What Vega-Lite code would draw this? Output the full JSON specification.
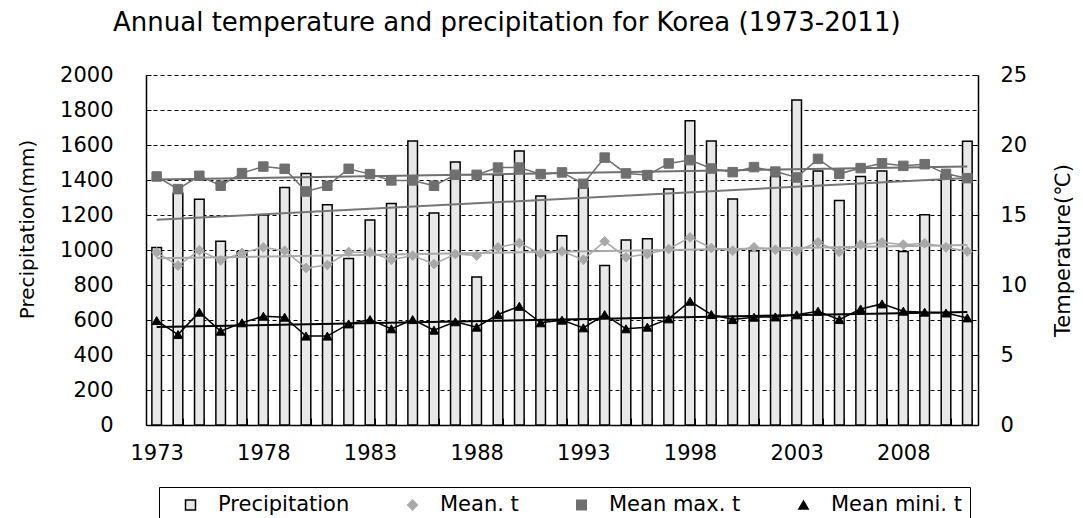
{
  "$schema": "https://vega.github.io/schema/vega-lite/v6.json",
  "width": 832,
  "height": 350,
  "autosize": {"type": "none"},
  "padding": {"left": 146, "top": 75, "right": 105, "bottom": 93},
  "background": "white",
  "config": {
    "view": {"stroke": null},
    "font": "DejaVu Sans",
    "axis": {"labelFont": "DejaVu Sans", "labelColor": "black", "titleColor": "black", "titleFontWeight": "normal", "titleFont": "DejaVu Sans", "domainColor": "black", "tickColor": "black"},
    "legend": {
      "orient": "none",
      "legendX": 13,
      "legendY": 412,
      "direction": "horizontal",
      "columns": 4,
      "padding": 8,
      "strokeColor": "black",
      "fillColor": "white",
      "symbolOffset": 13,
      "labelOffset": 17,
      "columnPadding": 39,
      "clipHeight": 20,
      "symbolSize": 2116,
      "symbolStrokeWidth": 1.5,
      "labelFont": "DejaVu Sans",
      "labelFontSize": 21,
      "labelColor": "black",
      "labelLimit": 400
    }
  },
  "title": {
    "text": "Annual temperature and precipitation for Korea (1973-2011)",
    "anchor": "start",
    "frame": "group",
    "dx": -33,
    "offset": 28,
    "font": "DejaVu Sans",
    "fontSize": 26,
    "fontWeight": "normal",
    "color": "black"
  },
  "data": {
    "values": [
      {"year": 1973, "precip": 1015, "tmean": 12.33, "tmax": 17.75, "tmin": 7.46},
      {"year": 1974, "precip": 1325, "tmean": 11.38, "tmax": 16.85, "tmin": 6.46},
      {"year": 1975, "precip": 1290, "tmean": 12.48, "tmax": 17.8, "tmin": 8.06},
      {"year": 1976, "precip": 1050, "tmean": 11.76, "tmax": 17.09, "tmin": 6.7},
      {"year": 1977, "precip": 990, "tmean": 12.29, "tmax": 17.99, "tmin": 7.3},
      {"year": 1978, "precip": 1200, "tmean": 12.69, "tmax": 18.46, "tmin": 7.77},
      {"year": 1979, "precip": 1357, "tmean": 12.45, "tmax": 18.3, "tmin": 7.7},
      {"year": 1980, "precip": 1437, "tmean": 11.22, "tmax": 16.68, "tmin": 6.35},
      {"year": 1981, "precip": 1258, "tmean": 11.43, "tmax": 17.09, "tmin": 6.35},
      {"year": 1982, "precip": 951, "tmean": 12.36, "tmax": 18.3, "tmin": 7.22},
      {"year": 1983, "precip": 1171, "tmean": 12.33, "tmax": 17.92, "tmin": 7.53},
      {"year": 1984, "precip": 1266, "tmean": 11.81, "tmax": 17.47, "tmin": 6.87},
      {"year": 1985, "precip": 1623, "tmean": 12.1, "tmax": 17.47, "tmin": 7.53},
      {"year": 1986, "precip": 1211, "tmean": 11.5, "tmax": 17.09, "tmin": 6.77},
      {"year": 1987, "precip": 1503, "tmean": 12.21, "tmax": 17.87, "tmin": 7.37},
      {"year": 1988, "precip": 846, "tmean": 12.1, "tmax": 17.87, "tmin": 6.99},
      {"year": 1989, "precip": 1430, "tmean": 12.69, "tmax": 18.39, "tmin": 7.89},
      {"year": 1990, "precip": 1566, "tmean": 13.0, "tmax": 18.39, "tmin": 8.48},
      {"year": 1991, "precip": 1308, "tmean": 12.24, "tmax": 17.92, "tmin": 7.3},
      {"year": 1992, "precip": 1082, "tmean": 12.4, "tmax": 18.04, "tmin": 7.49},
      {"year": 1993, "precip": 1353, "tmean": 11.81, "tmax": 17.23, "tmin": 6.94},
      {"year": 1994, "precip": 911, "tmean": 13.12, "tmax": 19.1, "tmin": 7.89},
      {"year": 1995, "precip": 1057, "tmean": 11.98, "tmax": 17.97, "tmin": 6.87},
      {"year": 1996, "precip": 1065, "tmean": 12.21, "tmax": 17.85, "tmin": 6.99},
      {"year": 1997, "precip": 1348, "tmean": 12.57, "tmax": 18.68, "tmin": 7.58},
      {"year": 1998, "precip": 1738, "tmean": 13.4, "tmax": 18.92, "tmin": 8.84},
      {"year": 1999, "precip": 1623, "tmean": 12.64, "tmax": 18.32, "tmin": 7.89},
      {"year": 2000, "precip": 1291, "tmean": 12.45, "tmax": 18.06, "tmin": 7.53},
      {"year": 2001, "precip": 996, "tmean": 12.69, "tmax": 18.42, "tmin": 7.7},
      {"year": 2002, "precip": 1420, "tmean": 12.52, "tmax": 18.1, "tmin": 7.72},
      {"year": 2003, "precip": 1857, "tmean": 12.43, "tmax": 17.68, "tmin": 7.87},
      {"year": 2004, "precip": 1452, "tmean": 13.05, "tmax": 19.01, "tmin": 8.13},
      {"year": 2005, "precip": 1283, "tmean": 12.36, "tmax": 17.94, "tmin": 7.53},
      {"year": 2006, "precip": 1420, "tmean": 12.88, "tmax": 18.35, "tmin": 8.29},
      {"year": 2007, "precip": 1452, "tmean": 13.05, "tmax": 18.7, "tmin": 8.65},
      {"year": 2008, "precip": 992, "tmean": 12.88, "tmax": 18.51, "tmin": 8.13},
      {"year": 2009, "precip": 1201, "tmean": 12.98, "tmax": 18.63, "tmin": 8.06},
      {"year": 2010, "precip": 1430, "tmean": 12.69, "tmax": 17.94, "tmin": 8.0},
      {"year": 2011, "precip": 1621, "tmean": 12.4, "tmax": 17.63, "tmin": 7.65}
    ]
  },
  "encoding": {
    "x": {
      "field": "year",
      "type": "ordinal",
      "scale": {"paddingInner": 0.55, "paddingOuter": 0.275},
      "axis": {
        "title": null,
        "labelAngle": 0,
        "labelExpr": "(datum.value - 1973) % 5 === 0 ? datum.label : ''",
        "labelOverlap": false,
        "labelFontSize": 21,
        "labelPadding": 24,
        "tickBand": "extent",
        "tickSize": -7,
        "domainWidth": 1.5,
        "grid": false
      }
    }
  },
  "layer": [
    {
      "encoding": {
        "y": {
          "field": "precip",
          "type": "quantitative",
          "scale": {"domain": [0, 2000], "nice": false},
          "axis": {
            "title": "Precipitation(mm)",
            "titleFontSize": 20,
            "titlePadding": 22,
            "titleY": 154,
            "values": [0, 200, 400, 600, 800, 1000, 1200, 1400, 1600, 1800, 2000],
            "format": "d",
            "labelFontSize": 21,
            "labelPadding": 38,
            "tickSize": -5,
            "domainWidth": 1.5,
            "grid": true,
            "gridColor": "black",
            "gridDash": [4, 3],
            "gridOpacity": 1,
            "gridWidth": 1
          }
        }
      },
      "layer": [
        {
          "mark": {"type": "bar", "fill": "#e8e8e8", "stroke": "black", "strokeWidth": 1.5}
        },
        {
          "transform": [{"regression": "precip", "on": "year"}],
          "mark": {"type": "line", "color": "#777777", "strokeWidth": 2}
        }
      ]
    },
    {
      "transform": [{"fold": ["tmean", "tmax", "tmin"], "as": ["key", "value"]}],
      "encoding": {
        "y": {
          "field": "value",
          "type": "quantitative",
          "scale": {"domain": [0, 25], "nice": false},
          "axis": {
            "orient": "right",
            "title": "Temperature(℃)",
            "titleFontSize": 21,
            "titleAngle": 270,
            "titleBaseline": "top",
            "titlePadding": 26,
            "values": [0, 5, 10, 15, 20, 25],
            "labelFontSize": 21,
            "labelPadding": 28,
            "tickSize": -6,
            "domainWidth": 1.5,
            "grid": false
          }
        },
        "stroke": {
          "field": "key",
          "type": "nominal",
          "scale": {"domain": ["precip", "tmean", "tmax", "tmin"], "range": ["#000000", "#a9a9a9", "#6f6f6f", "#000000"]},
          "legend": {
            "title": null,
            "labelExpr": "datum.label === 'precip' ? 'Precipitation' : datum.label === 'tmean' ? 'Mean. t' : datum.label === 'tmax' ? 'Mean max. t' : 'Mean mini. t'"
          }
        }
      },
      "layer": [
        {
          "mark": {"type": "line", "strokeWidth": 1.5}
        },
        {
          "transform": [{"regression": "value", "on": "year", "groupby": ["key"]}],
          "mark": {"type": "line", "strokeWidth": 2}
        },
        {
          "mark": {"type": "point", "filled": true, "opacity": 1, "strokeWidth": 1},
          "encoding": {
            "shape": {
              "field": "key",
              "type": "nominal",
              "scale": {"domain": ["precip", "tmean", "tmax", "tmin"], "range": ["square", "diamond", "square", "triangle-up"]},
              "legend": {
                "title": null,
                "labelExpr": "datum.label === 'precip' ? 'Precipitation' : datum.label === 'tmean' ? 'Mean. t' : datum.label === 'tmax' ? 'Mean max. t' : 'Mean mini. t'",
                "encode": {
                  "symbols": {
                    "shape": {"value": {"expr": "datum.value === 'precip' ? 'M-1,-0.2H1V0.2H-1Z' : datum.value === 'tmean' ? 'M-1,0H1M-0.2,0L0,-0.2L0.2,0L0,0.2Z' : datum.value === 'tmax' ? 'M-1,0H1M-0.19,-0.19H0.19V0.19H-0.19Z' : 'M-1,0H1M-0.22,0.19L0,-0.22L0.22,0.19Z'"}},
                    "size": {"value": 2116},
                    "strokeWidth": {"value": 1.5}
                  }
                }
              }
            },
            "fill": {
              "field": "key",
              "type": "nominal",
              "scale": {"domain": ["precip", "tmean", "tmax", "tmin"], "range": ["#e8e8e8", "#a9a9a9", "#6f6f6f", "#000000"]},
              "legend": {
                "title": null,
                "labelExpr": "datum.label === 'precip' ? 'Precipitation' : datum.label === 'tmean' ? 'Mean. t' : datum.label === 'tmax' ? 'Mean max. t' : 'Mean mini. t'"
              }
            },
            "size": {
              "field": "key",
              "type": "nominal",
              "scale": {"domain": ["precip", "tmean", "tmax", "tmin"], "range": [100, 85, 130, 110]},
              "legend": null
            }
          }
        }
      ]
    }
  ],
  "resolve": {"scale": {"y": "independent"}}
}
